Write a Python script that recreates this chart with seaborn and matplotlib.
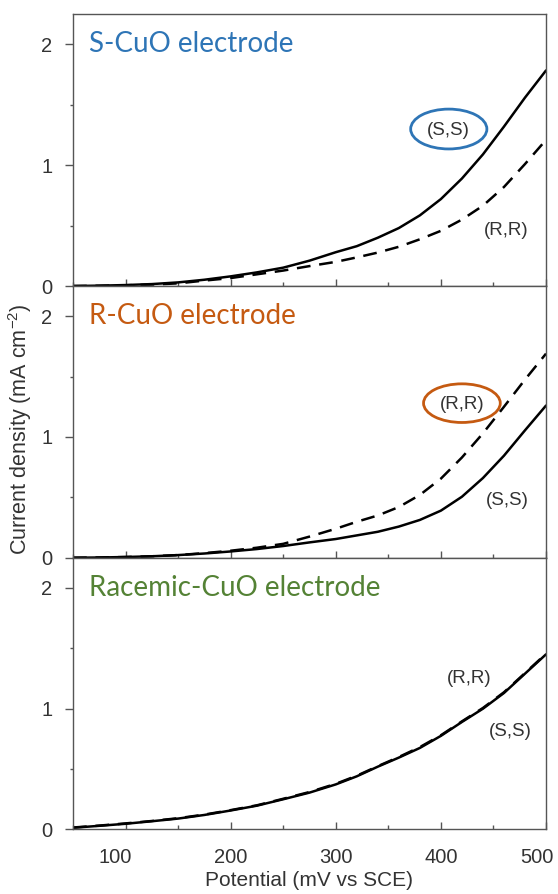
import matplotlib
matplotlib.use("Agg")
import matplotlib.pyplot as plt
import matplotlib.transforms as mtransforms
import pandas as pd
import seaborn as sns
from matplotlib.patches import Ellipse
from matplotlib.ticker import MultipleLocator

# potential (mV vs SCE)
potential = [50, 75, 100, 125, 150, 175, 200, 225, 250, 275, 300,
             320, 340, 360, 380, 400, 420, 440, 460, 480, 500]

# S-CuO electrode
s_cuo_ss = [0.0, 0.003, 0.008, 0.016, 0.03, 0.052, 0.08, 0.113, 0.152, 0.21, 0.28,
            0.33, 0.40, 0.48, 0.585, 0.72, 0.89, 1.09, 1.32, 1.56, 1.785]
s_cuo_rr = [0.0, 0.002, 0.006, 0.012, 0.022, 0.045, 0.066, 0.097, 0.128, 0.165, 0.20,
            0.237, 0.277, 0.325, 0.387, 0.457, 0.55, 0.665, 0.82, 1.01, 1.21]

# R-CuO electrode
r_cuo_ss = [0.0, 0.002, 0.006, 0.012, 0.022, 0.035, 0.052, 0.072, 0.097, 0.127, 0.155,
            0.185, 0.215, 0.258, 0.313, 0.39, 0.505, 0.66, 0.845, 1.055, 1.26]
r_cuo_rr = [0.0, 0.002, 0.006, 0.012, 0.022, 0.038, 0.058, 0.083, 0.115, 0.175, 0.24,
            0.298, 0.35, 0.42, 0.52, 0.655, 0.83, 1.03, 1.25, 1.475, 1.69]

# Racemic-CuO electrode
rac_ss = [0.014, 0.03, 0.047, 0.068, 0.09, 0.12, 0.157, 0.197, 0.25, 0.305, 0.373,
          0.44, 0.52, 0.595, 0.675, 0.775, 0.89, 1.0, 1.13, 1.29, 1.45]
rac_rr = [0.016, 0.032, 0.05, 0.07, 0.093, 0.123, 0.16, 0.2, 0.254, 0.31, 0.378,
          0.445, 0.524, 0.6, 0.682, 0.78, 0.895, 1.006, 1.136, 1.295, 1.455]

titles = ["S-CuO electrode", "R-CuO electrode", "Racemic-CuO electrode"]
title_colors = ["#2E75B6", "#C55A11", "#548235"]
xticks = [100, 200, 300, 400, 500]

sns.set_style("ticks")
plt.rcParams['font.family'] = ['Liberation Sans', 'DejaVu Sans']
plt.rcParams['mathtext.default'] = 'regular'

text_col = "#333333"
spine_col = "#555555"

fig, axes = plt.subplots(3, 1, figsize=(5.58, 8.94), dpi=100, sharex=True)
fig.subplots_adjust(left=0.1308, right=0.9785, top=0.984, bottom=0.0722, hspace=0)

curves = [(s_cuo_ss, s_cuo_rr), (r_cuo_ss, r_cuo_rr), (rac_ss, rac_rr)]

for ax, (ss, rr), title, tc in zip(axes, curves, titles, title_colors):
    df = pd.DataFrame({
        "potential": potential * 2,
        "current": ss + rr,
        "sample": ["(S,S)"] * len(ss) + ["(R,R)"] * len(rr),
    })
    sns.lineplot(data=df, x="potential", y="current", style="sample",
                 dashes={"(S,S)": "", "(R,R)": (5.5, 3.5)}, color="black",
                 linewidth=1.8, estimator=None, legend=False, ax=ax)
    ax.set_xlim(50, 500)
    ax.set_ylim(0, 2.25)
    ax.set_xlabel("")
    ax.set_ylabel("")
    ax.yaxis.set_major_locator(MultipleLocator(1))
    ax.yaxis.set_minor_locator(MultipleLocator(0.5))
    ax.xaxis.set_minor_locator(MultipleLocator(50))
    ax.tick_params(axis='x', which='major', direction='in', length=5, width=1, color=spine_col,
                   labelcolor=text_col, labelsize=14.5, pad=13)
    ax.tick_params(axis='x', which='minor', direction='in', length=3, width=1, color=spine_col)
    ax.tick_params(axis='y', which='major', direction='out', length=6, width=1, color=spine_col,
                   labelcolor=text_col, labelsize=14.5, pad=9)
    ax.tick_params(axis='y', which='minor', direction='out', length=2.5, width=1, color=spine_col)
    for sp in ax.spines.values():
        sp.set_color(spine_col)
        sp.set_linewidth(1.0)
    ax.text(65, 2.0, title, color=tc, fontsize=20, family=['Lato', 'DejaVu Sans'],
            ha='left', va='center')

axes[2].set_xticks(xticks, labels=[str(t) for t in xticks])
# nudge first and last labels like in the original figure
lbls = axes[2].get_xticklabels()
for lbl, dx in [(lbls[0], -10), (lbls[-1], -9)]:
    lbl.set_transform(lbl.get_transform() + mtransforms.ScaledTranslation(dx / 100, 0, fig.dpi_scale_trans))

# annotations
axes[0].text(407.5, 1.29, "(S,S)", fontsize=13.5, color=text_col, ha='center', va='center')
axes[0].add_patch(Ellipse((407.5, 1.30), 72.5, 0.33, fill=False, edgecolor=title_colors[0], lw=2))
axes[0].text(462, 0.46, "(R,R)", fontsize=13.5, color=text_col, ha='center', va='center')

axes[1].text(420, 1.27, "(R,R)", fontsize=13.5, color=text_col, ha='center', va='center')
axes[1].add_patch(Ellipse((420, 1.28), 73, 0.32, fill=False, edgecolor=title_colors[1], lw=2))
axes[1].text(463, 0.47, "(S,S)", fontsize=13.5, color=text_col, ha='center', va='center')

axes[2].text(427, 1.25, "(R,R)", fontsize=13.5, color=text_col, ha='center', va='center')
axes[2].text(466, 0.81, "(S,S)", fontsize=13.5, color=text_col, ha='center', va='center')

axes[2].set_xlabel("Potential (mV vs SCE)", fontsize=15, color=text_col, labelpad=3)
fig.text(0.036, 0.52, "Current density (mA cm$^{-2}$)", rotation=90, fontsize=15.5,
         color=text_col, ha='center', va='center')

fig.savefig("out.png", dpi=100)
